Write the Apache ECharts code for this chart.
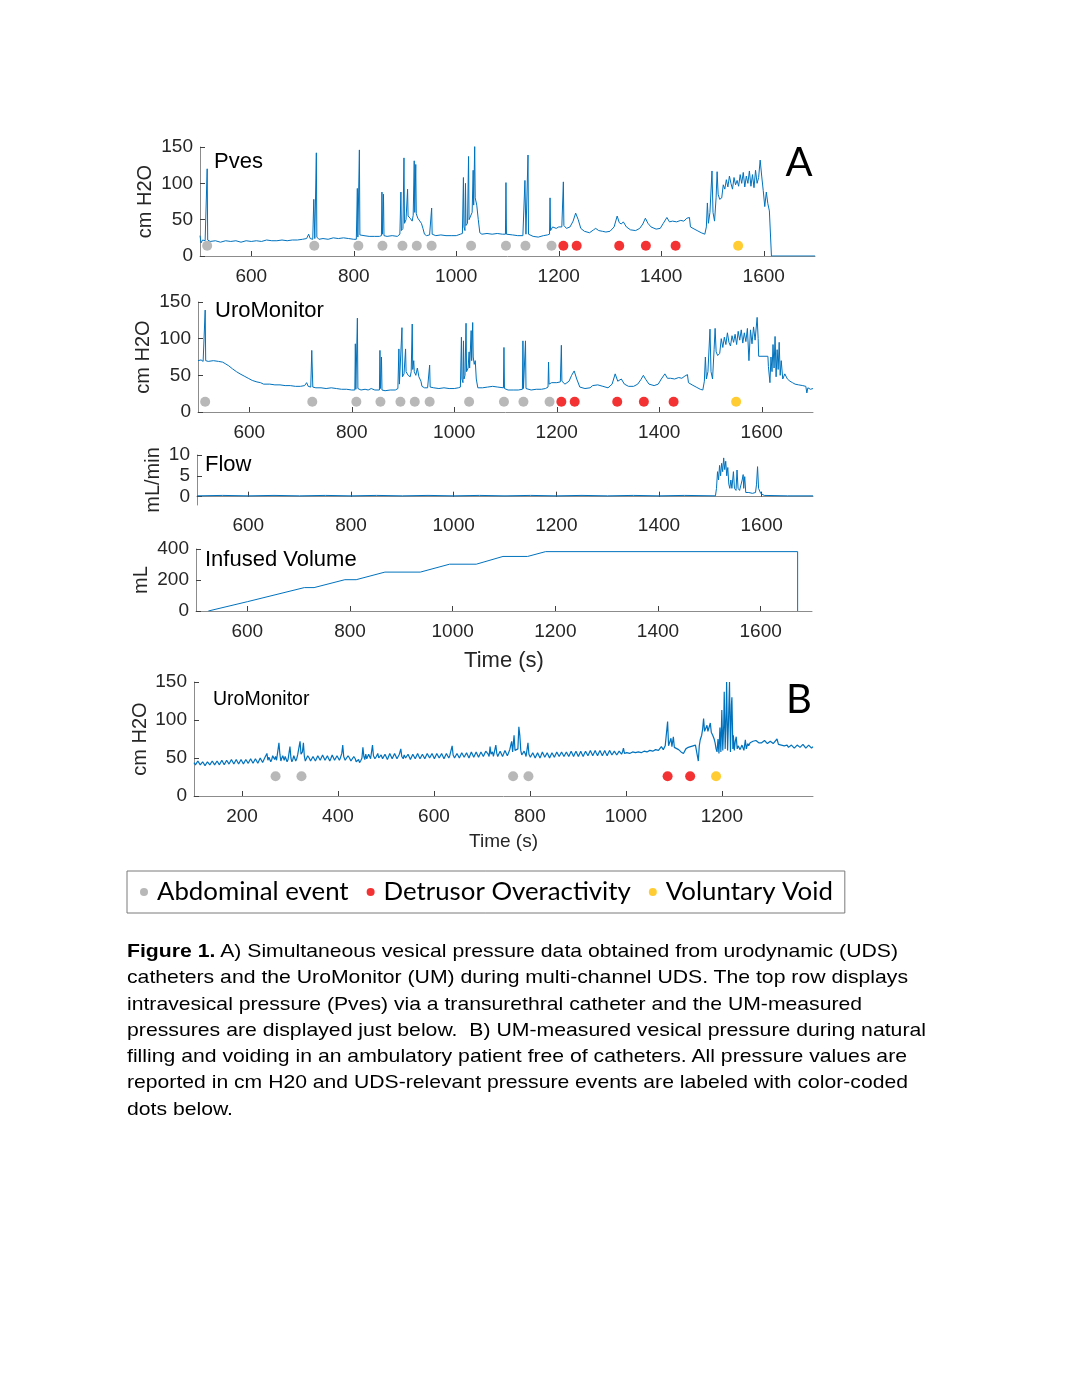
<!DOCTYPE html>
<html><head><meta charset="utf-8">
<script src="https://cdn.jsdelivr.net/npm/echarts@6/dist/echarts.min.js"></script>
<style>
html,body{margin:0;padding:0;background:#fff;}
#chart{position:absolute;left:0;top:0;width:1080px;height:1397px;}
#caption{position:absolute;left:127px;top:938px;font-family:"Liberation Sans",Arial,sans-serif;font-size:19px;line-height:26.3px;color:#000;}
#caption div{white-space:nowrap;transform-origin:0 50%;width:max-content;}
</style></head><body>
<div id="chart"></div>
<div id="caption">
<div data-w="771"><b>Figure 1.</b> A) Simultaneous vesical pressure data obtained from urodynamic (UDS)</div>
<div data-w="781">catheters and the UroMonitor (UM) during multi-channel UDS. The top row displays</div>
<div data-w="735">intravesical pressure (Pves) via a transurethral catheter and the UM-measured</div>
<div data-w="799">pressures are displayed just below.&nbsp; B) UM-measured vesical pressure during natural</div>
<div data-w="780">filling and voiding in an ambulatory patient free of catheters. All pressure values are</div>
<div data-w="781">reported in cm H20 and UDS-relevant pressure events are labeled with color-coded</div>
<div data-w="106">dots below.</div>
</div>
<script>
// ---------------- DATA ----------------
const panelATicks = [600, 800, 1000, 1200, 1400, 1600];
const panelBTicks = [200, 400, 600, 800, 1000, 1200];
const pressureTicks = [0, 50, 100, 150];
const flowTicks = [0, 5, 10];
const volumeTicks = [0, 200, 400];

const pvesTrace = [[500,28],[502,18],[505,22],[510,21],[513,21],[514,120],[515,22],[520,20],[530,21],[540,19],[550,21],[560,20],[570,21],[580,19],[590,21],[600,20],[610,21],[620,20],[630,22],[640,21],[650,21],[660,22],[670,21],[680,22],[690,22],[700,23],[708,24],[712,30],[715,24],[720,23],[722,78],[724,24],[726,25],[727,142],[728,26],[732,23],[740,24],[750,23],[760,25],[770,24],[780,25],[790,24],[800,23],[805,23],[807,93],[808,26],[810,26],[811,146],[812,29],[815,28],[820,28],[830,27],[840,27],[850,27],[854,28],[855,88],[856,30],[858,85],[859,28],[865,27],[875,28],[885,27],[890,30],[892,88],[893,35],[896,38],[898,135],[899,45],[902,50],[905,92],[906,55],[910,52],[914,48],[916,56],[918,131],[919,60],[921,126],[922,58],[925,52],[928,50],[932,45],[935,38],[938,30],[942,28],[948,29],[951,30],[952,66],[953,30],[960,28],[970,29],[980,28],[990,28],[1000,28],[1008,30],[1012,31],[1014,108],[1015,40],[1017,35],[1018,100],[1019,42],[1022,45],[1024,137],[1025,50],[1028,55],[1031,60],[1033,118],[1034,70],[1036,151],[1037,80],[1040,70],[1043,50],[1046,32],[1050,30],[1060,31],[1070,30],[1080,31],[1090,30],[1096,30],[1097,101],[1098,30],[1110,29],[1120,28],[1130,28],[1133,29],[1134,104],[1136,30],[1139,29],[1140,139],[1141,30],[1150,27],[1160,26],[1170,28],[1178,29],[1182,30],[1183,80],[1184,35],[1188,40],[1195,38],[1200,40],[1206,40],[1208,42],[1209,102],[1210,42],[1215,38],[1222,40],[1228,48],[1233,59],[1238,50],[1243,38],[1250,34],[1260,32],[1268,36],[1272,38],[1278,35],[1285,34],[1292,33],[1300,34],[1308,40],[1314,55],[1318,46],[1322,44],[1326,47],[1332,40],[1340,36],[1350,35],[1358,38],[1364,44],[1369,52],[1374,45],[1380,40],[1390,37],[1398,38],[1404,45],[1411,53],[1416,47],[1422,48],[1430,47],[1438,49],[1444,48],[1450,52],[1455,53],[1457,40],[1462,38],[1470,35],[1478,32],[1485,30],[1488,40],[1490,73],[1492,45],[1495,60],[1499,117],[1501,60],[1504,48],[1507,80],[1509,116],[1511,85],[1514,78],[1518,80],[1521,98],[1524,92],[1527,105],[1530,95],[1533,110],[1536,100],[1539,92],[1542,108],[1545,98],[1548,104],[1551,96],[1554,112],[1557,100],[1560,115],[1563,95],[1566,110],[1569,100],[1572,117],[1575,96],[1578,112],[1581,94],[1584,118],[1587,100],[1590,108],[1593,132],[1596,110],[1599,90],[1602,68],[1605,88],[1608,72],[1611,62],[1614,60],[1615,0],[1700,0]];

const uroATrace = [[500,70],[502,68],[506,71],[510,69],[513,70],[514,139],[515,70],[520,69],[530,70],[540,69],[548,68],[553,66],[560,63],[567,59],[575,55],[582,52],[590,49],[598,46],[606,43],[615,41],[622,40],[628,38],[640,38],[650,37],[660,37],[670,36],[680,36],[690,35],[700,35],[708,36],[712,40],[715,35],[720,34],[722,84],[724,34],[730,33],[740,33],[750,32],[760,33],[770,32],[780,31],[790,31],[800,30],[806,30],[807,93],[808,31],[810,31],[811,128],[812,32],[818,30],[826,31],[832,30],[838,32],[845,30],[854,30],[855,84],[856,32],[858,75],[859,30],[865,29],[875,30],[885,30],[890,32],[892,86],[893,38],[896,40],[898,115],[899,48],[902,52],[905,86],[906,55],[910,50],[914,48],[916,55],[918,120],[919,58],[921,70],[922,55],[925,50],[928,60],[931,48],[935,42],[937,35],[942,33],[948,33],[951,34],[952,64],[953,34],[960,33],[970,32],[980,33],[990,32],[1000,32],[1008,33],[1012,34],[1014,102],[1015,45],[1017,40],[1018,97],[1019,45],[1021,50],[1023,121],[1024,55],[1027,60],[1029,82],[1030,60],[1033,111],[1034,70],[1036,122],[1037,75],[1039,65],[1041,70],[1043,45],[1046,33],[1055,33],[1065,34],[1075,35],[1085,34],[1096,33],[1097,88],[1098,32],[1105,30],[1115,30],[1125,30],[1133,31],[1134,97],[1135,32],[1138,31],[1139,97],[1140,32],[1150,30],[1160,31],[1170,31],[1178,32],[1183,34],[1184,68],[1185,38],[1190,40],[1200,40],[1207,41],[1209,91],[1210,42],[1216,38],[1224,42],[1229,50],[1234,56],[1239,45],[1245,34],[1255,32],[1265,33],[1270,36],[1280,37],[1290,35],[1300,33],[1308,38],[1314,52],[1319,42],[1322,44],[1326,45],[1332,38],[1340,35],[1350,35],[1358,38],[1364,44],[1369,50],[1374,44],[1380,38],[1390,36],[1398,38],[1404,45],[1411,52],[1416,46],[1422,46],[1430,45],[1438,47],[1444,46],[1450,49],[1455,51],[1457,40],[1464,37],[1472,34],[1480,31],[1485,30],[1488,42],[1490,75],[1492,45],[1495,55],[1499,113],[1501,55],[1504,45],[1507,85],[1509,114],[1511,82],[1514,77],[1518,80],[1521,100],[1524,88],[1527,102],[1530,92],[1533,108],[1536,95],[1539,90],[1542,104],[1545,95],[1548,106],[1551,92],[1554,110],[1557,98],[1560,112],[1563,94],[1566,108],[1569,96],[1572,114],[1575,70],[1578,112],[1581,93],[1584,116],[1587,98],[1591,129],[1593,100],[1594,76],[1612,76],[1613,62],[1616,40],[1618,75],[1620,55],[1622,92],[1624,60],[1626,103],[1628,48],[1630,85],[1632,58],[1634,95],[1636,50],[1638,70],[1641,45],[1645,52],[1650,45],[1655,42],[1660,40],[1665,38],[1672,37],[1680,36],[1686,35],[1688,26],[1690,33],[1695,31],[1700,32]];

const flowTrace = [[500,0.2],[550,0.3],[600,0.2],[650,0.3],[700,0.2],[750,0.3],[800,0.2],[850,0.3],[900,0.2],[950,0.3],[1000,0.2],[1050,0.3],[1100,0.2],[1150,0.3],[1200,0.2],[1250,0.3],[1300,0.2],[1350,0.3],[1400,0.2],[1450,0.3],[1510,0.2],[1512,2],[1514,6],[1516,4],[1518,7.5],[1520,5],[1522,8],[1524,6],[1526,9.3],[1528,6.5],[1530,8.5],[1532,5],[1534,7],[1536,3],[1538,2],[1540,4],[1542,2],[1545,6],[1547,2],[1550,1.5],[1552,6.4],[1554,2],[1557,1.5],[1560,1.2],[1562,4],[1564,5.3],[1565,2],[1567,4.8],[1569,1],[1575,1],[1582,0.8],[1588,1],[1590,3],[1592,7.2],[1594,2],[1598,0.8],[1605,0.3],[1650,0.2],[1700,0.2]];

const volumeTrace = [[524,0],[600,60],[711,151],[730,151],[790,202],[812,202],[868,251],[937,251],[994,302],[1046,302],[1098,352],[1146,352],[1181,383],[1672,383],[1672,0]];

const uroBTrace = [[100,44],[103,41],[105,42],[108,46],[110,45],[113,41],[115,43],[118,45],[120,44],[123,40],[125,41],[128,45],[130,44],[133,41],[135,43],[138,46],[140,45],[143,41],[145,42],[148,46],[150,44],[153,41],[155,43],[158,47],[160,46],[163,41],[165,42],[168,47],[170,45],[173,42],[175,44],[178,48],[180,47],[183,42],[185,43],[188,48],[190,46],[193,42],[195,44],[198,48],[200,47],[203,42],[205,43],[208,48],[210,46],[213,43],[215,45],[218,49],[220,48],[223,43],[225,44],[228,49],[230,47],[233,43],[235,45],[238,50],[240,49],[243,44],[245,46],[248,51],[250,52],[252,56],[254,47],[256,51],[258,50],[260,45],[262,48],[264,53],[266,55],[268,48],[270,52],[272,47],[274,56],[277,70],[279,55],[281,46],[283,50],[285,53],[288,47],[290,52],[292,50],[294,45],[296,48],[300,65],[302,50],[304,45],[306,48],[308,53],[310,51],[312,46],[314,49],[316,54],[318,52],[321,72],[323,55],[326,58],[328,70],[330,52],[332,46],[334,48],[337,53],[340,50],[343,46],[345,47],[348,52],[350,50],[353,46],[355,48],[358,53],[360,51],[363,47],[365,49],[368,54],[370,52],[373,47],[375,48],[378,53],[380,50],[383,46],[385,49],[388,54],[390,52],[393,47],[395,48],[398,53],[400,51],[403,47],[405,50],[408,56],[410,67],[412,52],[415,47],[418,48],[421,53],[424,50],[427,46],[430,47],[433,52],[436,49],[438,45],[440,46],[443,48],[445,44],[448,47],[450,50],[452,64],[454,52],[456,48],[458,55],[460,49],[462,50],[464,55],[466,54],[468,49],[470,58],[472,67],[474,53],[477,49],[480,52],[483,56],[485,50],[488,49],[490,54],[493,49],[495,50],[498,55],[500,53],[503,48],[505,51],[508,56],[510,54],[513,49],[515,50],[518,56],[520,55],[523,49],[525,51],[528,55],[531,62],[533,52],[536,49],[538,54],[541,50],[543,51],[546,55],[548,53],[551,48],[553,50],[556,55],[558,54],[561,49],[563,51],[566,56],[568,53],[571,49],[573,50],[576,55],[578,54],[581,49],[583,51],[586,56],[588,55],[591,50],[593,52],[596,56],[598,54],[601,49],[603,51],[606,56],[608,55],[611,50],[613,52],[616,56],[618,54],[621,49],[623,51],[626,56],[628,55],[631,50],[633,53],[636,55],[638,66],[640,54],[643,50],[645,52],[648,56],[650,55],[653,50],[655,51],[658,57],[660,56],[663,51],[665,53],[668,57],[670,55],[673,50],[675,52],[678,58],[680,57],[683,51],[685,53],[688,58],[690,56],[693,51],[695,53],[698,58],[700,57],[703,52],[705,54],[708,59],[710,58],[713,55],[715,52],[717,65],[719,55],[722,58],[724,52],[726,54],[729,67],[731,56],[733,52],[735,55],[738,59],[740,57],[743,52],[745,55],[748,60],[750,58],[753,53],[755,56],[758,61],[760,60],[762,72],[764,58],[767,80],[769,60],[772,58],[775,62],[777,91],[779,80],[781,60],[783,54],[785,55],[788,59],[790,56],[792,52],[794,54],[796,70],[798,55],[801,51],[803,53],[806,57],[808,55],[811,50],[813,52],[816,57],[818,55],[821,50],[823,53],[826,58],[828,56],[831,51],[833,53],[836,57],[838,55],[841,50],[843,52],[846,57],[848,55],[851,51],[853,53],[856,58],[858,56],[861,52],[863,54],[866,58],[868,57],[871,52],[873,53],[876,58],[878,56],[881,52],[883,54],[886,59],[888,57],[891,52],[893,55],[896,59],[898,58],[901,52],[903,54],[906,59],[908,56],[911,52],[913,55],[916,59],[918,57],[921,53],[923,55],[926,60],[928,58],[931,53],[933,55],[936,60],[938,57],[941,53],[943,56],[946,60],[948,58],[951,53],[953,55],[956,60],[958,57],[961,53],[963,56],[966,60],[968,58],[971,54],[973,55],[976,59],[978,57],[981,54],[983,56],[986,59],[988,57],[991,55],[993,58],[995,63],[997,56],[1000,55],[1002,57],[1005,59],[1008,56],[1011,55],[1014,58],[1017,60],[1020,57],[1023,56],[1026,58],[1029,60],[1032,57],[1035,57],[1038,59],[1041,61],[1044,58],[1047,58],[1050,60],[1053,62],[1056,59],[1059,59],[1062,61],[1065,63],[1068,60],[1070,61],[1072,62],[1074,65],[1076,63],[1078,61],[1080,62],[1082,66],[1084,65],[1087,98],[1089,66],[1092,64],[1094,76],[1096,65],[1099,78],[1101,64],[1105,62],[1110,61],[1115,58],[1120,56],[1125,62],[1130,64],[1135,65],[1140,66],[1145,67],[1148,65],[1151,46],[1153,66],[1155,74],[1158,80],[1160,88],[1162,102],[1164,85],[1166,84],[1169,93],[1171,85],[1173,83],[1176,96],[1178,84],[1181,80],[1184,75],[1186,70],[1188,62],[1190,58],[1192,75],[1194,56],[1196,90],[1198,58],[1200,113],[1202,60],[1204,95],[1205,137],[1207,62],[1209,110],[1210,150],[1212,60],[1214,100],[1216,150],[1218,58],[1220,120],[1221,130],[1223,62],[1224,80],[1226,60],[1228,72],[1230,78],[1232,62],[1234,66],[1236,64],[1238,61],[1240,62],[1242,67],[1244,66],[1246,60],[1249,74],[1251,62],[1254,69],[1256,66],[1259,70],[1262,68],[1265,72],[1268,70],[1271,73],[1274,71],[1277,70],[1280,72],[1283,70],[1286,71],[1289,73],[1292,72],[1295,69],[1298,70],[1301,72],[1304,71],[1307,69],[1310,70],[1315,75],[1318,68],[1321,66],[1324,67],[1327,65],[1330,66],[1333,68],[1336,67],[1339,64],[1342,65],[1345,67],[1348,66],[1351,63],[1354,64],[1357,67],[1360,66],[1363,64],[1366,65],[1369,68],[1372,67],[1375,63],[1378,64],[1381,67],[1384,66],[1387,63],[1390,65]];

// event markers (time in s)
const abdominalA = [514, 723, 809, 856, 895, 923, 952, 1029, 1097, 1135, 1186];
const detrusorA = [1209, 1235, 1318, 1370, 1428];
const voidA = [1550];
const abdominalB = [270, 324, 765, 797];
const detrusorB = [1087, 1134];
const voidB = [1188];
const markerLevelA = 14;
const markerLevelB = 26;

// ---------------- CHART ----------------
const FONT = '"Liberation Sans", Arial, sans-serif';
const LINE = '#0072BD';
const GRAY = '#A6A6A6', RED = '#F00000', YEL = '#FFC000';
const plain = v => String(v);

function xAx(gi, min, max, ticks, name, nameSize, nameGap) {
  return {
    type: 'value', gridIndex: gi, min: min, max: max,
    axisLine: {show: true, lineStyle: {color: '#8c8c8c', width: 1}},
    axisTick: {show: true, inside: true, length: 5, customValues: ticks, lineStyle: {color: '#404040'}},
    axisLabel: {show: true, customValues: ticks, formatter: plain, margin: 11, color: '#262626', fontSize: 19, fontFamily: FONT},
    splitLine: {show: false},
    name: name || '', nameLocation: 'middle', nameGap: nameGap || 40, nameMoveOverlap: false,
    nameTextStyle: {color: '#262626', fontSize: nameSize || 22, fontFamily: FONT}
  };
}
function yAx(gi, min, max, ticks, name, gap) {
  return {
    type: 'value', gridIndex: gi, min: min, max: max,
    axisLine: {show: true, lineStyle: {color: '#8c8c8c', width: 1}},
    axisTick: {show: true, inside: true, length: 5, customValues: ticks, lineStyle: {color: '#404040'}},
    axisLabel: {show: true, customValues: ticks, formatter: plain, margin: 7, color: '#262626', fontSize: 19, fontFamily: FONT},
    splitLine: {show: false},
    name: name, nameLocation: 'middle', nameRotate: 90, nameGap: gap, nameMoveOverlap: false,
    nameTextStyle: {color: '#262626', fontSize: 20, fontFamily: FONT}
  };
}
function lineS(idx, data, w) {
  return {type: 'line', xAxisIndex: idx, yAxisIndex: idx, data: data, showSymbol: false,
    symbol: 'none', sampling: 'none', lineStyle: {color: LINE, width: w || 1}, z: 2, silent: true};
}
function dotS(idx, name, times, level, color) {
  return {type: 'scatter', name: name, xAxisIndex: idx, yAxisIndex: idx,
    data: times.map(t => [t, level]), symbolSize: 10, itemStyle: {color: color}, z: 3, silent: true};
}
function txt(x, y, s, size, family) {
  return {type: 'text', x: x, y: y, style: {text: s, fontSize: size, fontFamily: family || FONT,
    fill: '#000', textVerticalAlign: 'middle', textAlign: 'left'}};
}

const chart = echarts.init(document.getElementById('chart'), null, {renderer: 'canvas'});
chart.setOption({
  animation: false,
  backgroundColor: '#fff',
  grid: [
    {left: 200, top: 147, width: 615, height: 109},
    {left: 198, top: 302, width: 615, height: 110},
    {left: 197, top: 455, width: 616, height: 50},
    {left: 196, top: 549, width: 616, height: 62},
    {left: 194, top: 682, width: 619, height: 114}
  ],
  xAxis: [
    xAx(0, 500, 1700, panelATicks),
    xAx(1, 500, 1700, panelATicks),
    xAx(2, 500, 1700, panelATicks),
    xAx(3, 500, 1700, panelATicks, 'Time (s)', 22, 39),
    xAx(4, 100, 1390, panelBTicks, 'Time (s)', 19, 36)
  ],
  yAxis: [
    yAx(0, 0, 150, pressureTicks, 'cm H2O', 45),
    yAx(1, 0, 150, pressureTicks, 'cm H2O', 45),
    yAx(2, -2, 10, flowTicks, 'mL/min', 34),
    yAx(3, 0, 400, volumeTicks, 'mL', 45),
    yAx(4, 0, 150, pressureTicks, 'cm H2O', 44)
  ],
  legend: {
    left: 127, top: 871, orient: 'horizontal', selectedMode: false,
    data: ['Abdominal event', 'Detrusor Overactivity', 'Voluntary Void'],
    icon: 'circle', itemWidth: 8, itemHeight: 8, itemGap: 18,
    padding: [8, 12, 8, 13], borderColor: '#7a7a7a', borderWidth: 1,
    textStyle: {fontFamily: 'Lato', fontSize: 25.8, color: '#000', padding: [0, 0, 0, 4]}
  },
  graphic: [
    txt(214, 162, 'Pves', 22),
    txt(215, 311, 'UroMonitor', 22),
    txt(205, 465, 'Flow', 22),
    txt(205, 560, 'Infused Volume', 22),
    txt(213, 700, 'UroMonitor', 19.5),
    {type: 'text', x: 799, y: 163, style: {text: 'A', fontSize: 40, fontFamily: 'Lato', fill: '#000', textAlign: 'center', textVerticalAlign: 'middle'}},
    {type: 'text', x: 799, y: 700, style: {text: 'B', fontSize: 40, fontFamily: 'Lato', fill: '#000', textAlign: 'center', textVerticalAlign: 'middle'}}
  ],
  series: [
    lineS(0, pvesTrace),
    dotS(0, 'Abdominal event', abdominalA, markerLevelA, GRAY),
    dotS(0, 'Detrusor Overactivity', detrusorA, markerLevelA, RED),
    dotS(0, 'Voluntary Void', voidA, markerLevelA, YEL),
    lineS(1, uroATrace),
    dotS(1, 'Abdominal event', abdominalA, markerLevelA, GRAY),
    dotS(1, 'Detrusor Overactivity', detrusorA, markerLevelA, RED),
    dotS(1, 'Voluntary Void', voidA, markerLevelA, YEL),
    lineS(2, flowTrace),
    lineS(3, volumeTrace),
    lineS(4, uroBTrace, 1.2),
    dotS(4, 'Abdominal event', abdominalB, markerLevelB, GRAY),
    dotS(4, 'Detrusor Overactivity', detrusorB, markerLevelB, RED),
    dotS(4, 'Voluntary Void', voidB, markerLevelB, YEL)
  ]
});

// fit caption lines to the reference line widths
document.querySelectorAll('#caption div').forEach(d => {
  const w = d.getBoundingClientRect().width;
  const target = +d.dataset.w;
  if (w > 0 && target) d.style.transform = 'scaleX(' + (target / w).toFixed(4) + ')';
});
</script>
</body></html>
